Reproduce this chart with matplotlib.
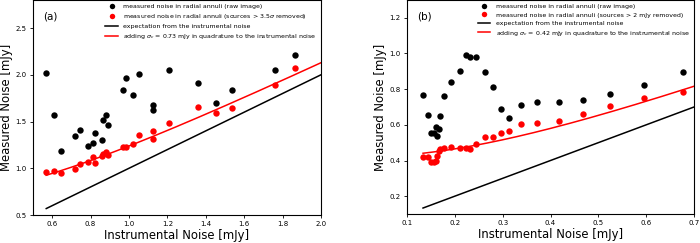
import numpy as np
import matplotlib
matplotlib.use("Agg")
import matplotlib.pyplot as plt

# panel (a): instrumental noise vs measured noise [mJy]
inst_a = [0.569, 0.610, 0.647, 0.717, 0.744, 0.784, 0.810, 0.823, 0.857, 0.864,
          0.880, 0.889, 0.970, 0.986, 1.019, 1.050, 1.127, 1.127, 1.210, 1.357,
          1.452, 1.534, 1.762, 1.863]
raw_a = [2.021, 1.571, 1.189, 1.346, 1.404, 1.239, 1.268, 1.382, 1.304, 1.511,
         1.575, 1.468, 1.839, 1.968, 1.789, 2.004, 1.675, 1.621, 2.050, 1.911,
         1.700, 1.839, 2.054, 2.214]
clean_a = [0.961, 0.968, 0.954, 0.996, 1.043, 1.064, 1.118, 1.057, 1.129, 1.157,
           1.179, 1.143, 1.225, 1.225, 1.261, 1.361, 1.400, 1.314, 1.489, 1.654,
           1.586, 1.643, 1.889, 2.075]
sigc_a = 0.73

# panel (b)
inst_b = [0.1335, 0.143, 0.150, 0.157, 0.160, 0.163, 0.167, 0.170, 0.177, 0.193,
          0.211, 0.223, 0.232, 0.244, 0.264, 0.279, 0.296, 0.314, 0.338, 0.372,
          0.417, 0.468, 0.524, 0.596, 0.677]
raw_b = [0.766, 0.654, 0.557, 0.552, 0.590, 0.540, 0.578, 0.649, 0.761, 0.838,
         0.903, 0.989, 0.980, 0.978, 0.894, 0.813, 0.690, 0.636, 0.714, 0.729,
         0.729, 0.742, 0.774, 0.826, 0.898]
clean_b = [0.421, 0.417, 0.393, 0.390, 0.396, 0.424, 0.452, 0.462, 0.470, 0.477,
           0.471, 0.468, 0.465, 0.490, 0.530, 0.530, 0.553, 0.566, 0.603, 0.613,
           0.620, 0.662, 0.706, 0.748, 0.785]
sigc_b = 0.42

W, H = 700, 243
fig = plt.figure(figsize=(7.0, 2.43), dpi=100)
ax_a = fig.add_axes([33/W, 28/H, 288/W, 215/H])
ax_b = fig.add_axes([407/W, 29/H, 287/W, 214/H])

panels = [
    (ax_a, inst_a, raw_a, clean_a, sigc_a, r"3.5$\sigma$", (0.5, 2.0), (0.5, 2.8),
     [0.6, 0.8, 1.0, 1.2, 1.4, 1.6, 1.8, 2.0], [0.5, 1.0, 1.5, 2.0, 2.5], "(a)"),
    (ax_b, inst_b, raw_b, clean_b, sigc_b, "2 mJy", (0.1, 0.7), (0.1, 1.3),
     [0.1, 0.2, 0.3, 0.4, 0.5, 0.6, 0.7], [0.2, 0.4, 0.6, 0.8, 1.0, 1.2], "(b)"),
]

for ax, x, raw, clean, sigc, cut, xl, yl, xt, yt, tag in panels:
    x = np.array(x)
    xx = np.linspace(x.min(), xl[1], 200)
    ax.plot(x, raw, "o", color="black", ms=4.6, mew=0,
            label="measured noise in radial annuli (raw image)")
    ax.plot(x, clean, "o", color="red", ms=4.6, mew=0,
            label=f"measured noise in radial annuli (sources > {cut} removed)")
    ax.plot(xx, xx, "-", color="black", lw=1.1,
            label="expectation from the instrumental noise")
    ax.plot(xx, np.sqrt(xx**2 + sigc**2), "-", color="red", lw=1.1,
            label=rf"adding $\sigma_c$ = {sigc:.2f} mJy in quadrature to the instrumental noise")
    ax.set_xlim(*xl); ax.set_ylim(*yl)
    ax.set_xticks(xt); ax.set_yticks(yt)
    ax.tick_params(labelsize=5, length=2.5, width=0.6, pad=2)
    for s in ax.spines.values():
        s.set_linewidth(0.8)
    ax.set_xlabel("Instrumental Noise [mJy]", fontsize=8.4, labelpad=1.5)
    ax.set_ylabel("Measured Noise [mJy]", fontsize=8.4, labelpad=2)
    ax.text(0.035, 0.925, tag, transform=ax.transAxes, fontsize=7.5, va="center")
    ax.legend(loc="upper right", fontsize=4.5, frameon=False, numpoints=1,
              handlelength=2.0, handletextpad=0.9, labelspacing=0.45,
              borderaxespad=0.25, markerscale=0.85)

plt.savefig("out.png", dpi=100)
